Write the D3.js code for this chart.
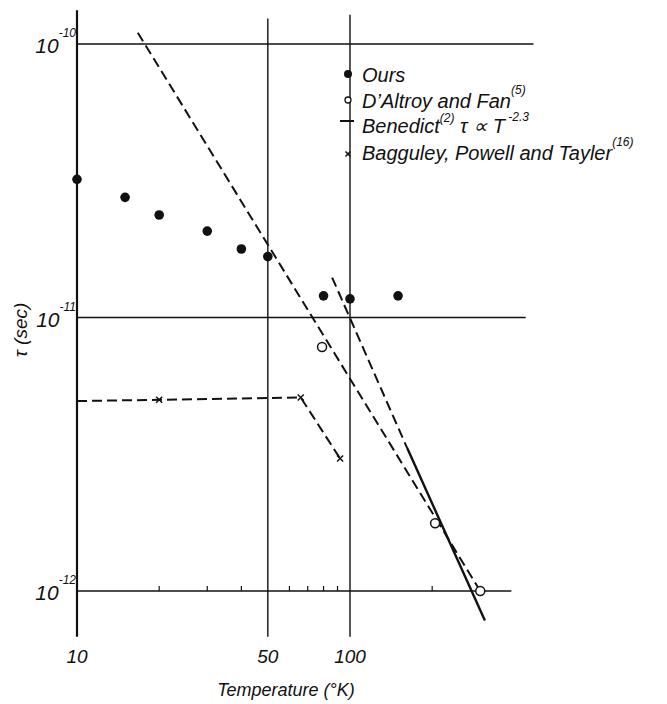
<!DOCTYPE html>
<html>
<head>
<meta charset="utf-8">
<script src="https://cdn.jsdelivr.net/npm/d3@7"></script>
<style>
  body { margin: 0; background: #fff; }
  text { font-family: "Liberation Sans", Arial, sans-serif; font-style: italic; fill: #111; }
</style>
</head>
<body>
<div id="chart"></div>
<script>
// relaxation time vs temperature
const oursT = [10, 15, 20, 30, 40, 50, 80, 100, 150];
const oursTau = [3.2e-11, 2.75e-11, 2.37e-11, 2.07e-11, 1.78e-11, 1.67e-11, 1.2e-11, 1.17e-11, 1.2e-11];

const daltroyT = [79, 205, 300];
const daltroyTau = [7.8e-12, 1.77e-12, 1.0e-12];

// dashed curve starts at T=10, crosses only from 20 on
const bagT = [10, 20, 66, 92];
const bagTau = [4.95e-12, 5.0e-12, 5.1e-12, 3.05e-12];

const benedictT = [162, 312];
const benedictTau = [3.33e-12, 7.8e-13];
const benedictExtT = [86, 162];
const benedictExtTau = [1.4e-11, 3.33e-12];

const theoryT = [16.7, 300];
const theoryTau = [1.1e-10, 1.0e-12];

const xTicks = [10, 50, 100];
const xMinor = [20, 30, 40, 60, 70, 80, 90, 200];
const yTicks = [1e-10, 1e-11, 1e-12];
const yTickExp = ["-10", "-11", "-12"];
const hGridEnd = [470, 440, 390];
const vGridTop = [1.33e-10, 1.24e-10, 1.28e-10];
const vGridBottom = 6.8e-13;

const width = 667, height = 704;

const svg = d3.select("#chart").append("svg")
    .attr("width", width)
    .attr("height", height)
    .style("background", "#fff");

const x = d3.scaleLog().domain([10, 100]).range([77, 350]);
const y = d3.scaleLog().domain([1e-12, 1e-10]).range([591, 44]);

const ink = "#111";

// frame: grid lines
svg.append("g").selectAll("line")
    .data(yTicks)
    .join("line")
    .attr("x1", x(10))
    .attr("x2", (d, i) => x(hGridEnd[i]))
    .attr("y1", d => y(d))
    .attr("y2", d => y(d))
    .attr("stroke", ink)
    .attr("stroke-width", 1.6);

svg.append("g").selectAll("line")
    .data(xTicks)
    .join("line")
    .attr("x1", d => x(d))
    .attr("x2", d => x(d))
    .attr("y1", (d, i) => y(vGridTop[i]))
    .attr("y2", y(vGridBottom))
    .attr("stroke", ink)
    .attr("stroke-width", (d, i) => i === 0 ? 2.2 : 1.4);

// small ticks on the bottom line
svg.append("g").selectAll("line")
    .data(xMinor)
    .join("line")
    .attr("x1", d => x(d))
    .attr("x2", d => x(d))
    .attr("y1", y(1e-12))
    .attr("y2", y(1e-12) - 5)
    .attr("stroke", ink)
    .attr("stroke-width", 1.2);

// tick labels
svg.append("g").selectAll("text")
    .data(xTicks)
    .join("text")
    .attr("x", d => x(d))
    .attr("y", 663)
    .attr("text-anchor", "middle")
    .attr("font-size", 19)
    .text(d => d);

const yLab = svg.append("g").selectAll("text")
    .data(yTicks)
    .join("text")
    .attr("x", 76)
    .attr("y", d => y(d) + 9)
    .attr("text-anchor", "end")
    .attr("font-size", 21);
yLab.append("tspan").text("10");
yLab.append("tspan")
    .attr("dy", -16)
    .attr("font-size", 12)
    .text((d, i) => yTickExp[i]);

// axis titles
svg.append("text")
    .attr("x", 286)
    .attr("y", 696)
    .attr("text-anchor", "middle")
    .attr("font-size", 18)
    .text("Temperature (°K)");

svg.append("text")
    .attr("transform", "translate(27,330) rotate(-90)")
    .attr("text-anchor", "middle")
    .attr("font-size", 19)
    .text("τ (sec)");

// lines
const line = d3.line().x(d => x(d[0])).y(d => y(d[1]));
const dash = "10,5";

svg.append("path")
    .datum(d3.zip(theoryT, theoryTau))
    .attr("d", line)
    .attr("fill", "none")
    .attr("stroke", ink)
    .attr("stroke-width", 2)
    .attr("stroke-dasharray", dash);

svg.append("path")
    .datum(d3.zip(benedictExtT, benedictExtTau))
    .attr("d", line)
    .attr("fill", "none")
    .attr("stroke", ink)
    .attr("stroke-width", 2)
    .attr("stroke-dasharray", dash);

svg.append("path")
    .datum(d3.zip(benedictT, benedictTau))
    .attr("d", line)
    .attr("fill", "none")
    .attr("stroke", ink)
    .attr("stroke-width", 2.4);

svg.append("path")
    .datum(d3.zip(bagT, bagTau))
    .attr("d", line)
    .attr("fill", "none")
    .attr("stroke", ink)
    .attr("stroke-width", 2)
    .attr("stroke-dasharray", dash);

// markers
const drawX = (sel, s) => sel.attr("d", `M${-s},${-s}L${s},${s}M${-s},${s}L${s},${-s}`)
    .attr("stroke", ink).attr("stroke-width", 1.5).attr("fill", "none");

svg.append("g").selectAll("path")
    .data(d3.zip(bagT, bagTau).slice(1))
    .join("path")
    .attr("transform", d => `translate(${x(d[0])},${y(d[1])})`)
    .call(drawX, 3);

svg.append("g").selectAll("circle")
    .data(d3.zip(daltroyT, daltroyTau))
    .join("circle")
    .attr("cx", d => x(d[0]))
    .attr("cy", d => y(d[1]))
    .attr("r", 4.5)
    .attr("fill", "#fff")
    .attr("stroke", ink)
    .attr("stroke-width", 1.5);

svg.append("g").selectAll("circle")
    .data(d3.zip(oursT, oursTau))
    .join("circle")
    .attr("cx", d => x(d[0]))
    .attr("cy", d => y(d[1]))
    .attr("r", 4.8)
    .attr("fill", ink);

// legend
const lg = svg.append("g").attr("transform", "translate(348,0)");
lg.append("circle").attr("cx", 0).attr("cy", 74).attr("r", 4).attr("fill", ink);
lg.append("circle").attr("cx", 0).attr("cy", 100).attr("r", 3).attr("fill", "#fff")
    .attr("stroke", ink).attr("stroke-width", 1.3);
lg.append("line").attr("x1", -8).attr("x2", 6).attr("y1", 121).attr("y2", 121)
    .attr("stroke", ink).attr("stroke-width", 2);
lg.append("path").attr("transform", "translate(0,154)").call(drawX, 2.5);

const lt = lg.append("g").attr("font-size", 20);
lt.append("text").attr("x", 14).attr("y", 82).text("Ours");

const t2 = lt.append("text").attr("x", 14).attr("y", 108);
t2.append("tspan").text("D’Altroy and Fan");
t2.append("tspan").attr("dy", -14).attr("font-size", 12).text("(5)");

const t3 = lt.append("text").attr("x", 14).attr("y", 133);
t3.append("tspan").text("Benedict");
t3.append("tspan").attr("dy", -11).attr("font-size", 12).text("(2)");
t3.append("tspan").attr("dy", 11).text(" τ ∝ T");
t3.append("tspan").attr("dy", -12).attr("font-size", 12).text(" -2.3");

const t4 = lt.append("text").attr("x", 14).attr("y", 160);
t4.append("tspan").text("Bagguley, Powell and Tayler");
t4.append("tspan").attr("dy", -14).attr("font-size", 12).text("(16)");
</script>
</body>
</html>
